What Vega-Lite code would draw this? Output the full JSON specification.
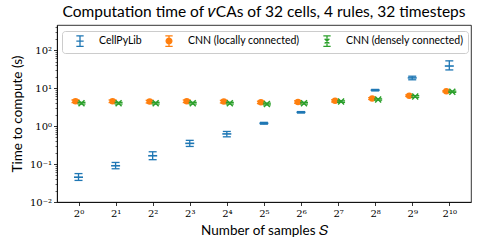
{
  "$schema": "https://vega.github.io/schema/vega-lite/v6.json",
  "width": 414,
  "height": 177,
  "autosize": {"type": "none"},
  "padding": {"left": 57, "top": 25, "right": 8, "bottom": 43},
  "title": {"text": "Computation time of 𝜈CAs of 32 cells, 4 rules, 32 timesteps", "font": "Lato", "fontSize": 15.5, "fontWeight": "normal", "color": "black", "offset": 5, "anchor": "middle"},
  "config": {
    "view": {"stroke": "black", "strokeWidth": 0.8},
    "axis": {"domainColor": "black", "tickColor": "black", "labelColor": "black", "titleColor": "black", "grid": false, "domainWidth": 0.8, "tickWidth": 0.8, "tickSize": 3.5, "labelFont": "DejaVu Serif", "labelFontSize": 10, "titleFont": "Lato", "titleFontSize": 13.5, "titleFontWeight": "normal", "labelOverlap": false, "labelFlush": false}
  },
  "datasets": {
    "d": [
      {"series": "CellPyLib", "S": 1, "t": 0.045, "lo": 0.037, "hi": 0.056},
      {"series": "CellPyLib", "S": 2, "t": 0.09, "lo": 0.075, "hi": 0.11},
      {"series": "CellPyLib", "S": 4, "t": 0.165, "lo": 0.13, "hi": 0.21},
      {"series": "CellPyLib", "S": 8, "t": 0.35, "lo": 0.29, "hi": 0.42},
      {"series": "CellPyLib", "S": 16, "t": 0.62, "lo": 0.52, "hi": 0.72},
      {"series": "CellPyLib", "S": 32, "t": 1.18, "lo": 1.12, "hi": 1.25},
      {"series": "CellPyLib", "S": 64, "t": 2.3, "lo": 2.2, "hi": 2.4},
      {"series": "CellPyLib", "S": 128, "t": 4.4, "lo": 4.2, "hi": 4.6},
      {"series": "CellPyLib", "S": 256, "t": 8.8, "lo": 8.4, "hi": 9.2},
      {"series": "CellPyLib", "S": 512, "t": 18.5, "lo": 16.5, "hi": 20.5},
      {"series": "CellPyLib", "S": 1024, "t": 38, "lo": 30, "hi": 52},
      {"series": "CNN (locally connected)", "S": 1, "t": 4.5, "lo": 4.15, "hi": 4.85},
      {"series": "CNN (locally connected)", "S": 2, "t": 4.5, "lo": 4.15, "hi": 4.85},
      {"series": "CNN (locally connected)", "S": 4, "t": 4.4, "lo": 4.05, "hi": 4.75},
      {"series": "CNN (locally connected)", "S": 8, "t": 4.5, "lo": 4.15, "hi": 4.85},
      {"series": "CNN (locally connected)", "S": 16, "t": 4.4, "lo": 4.05, "hi": 4.75},
      {"series": "CNN (locally connected)", "S": 32, "t": 4.2, "lo": 3.9, "hi": 4.5},
      {"series": "CNN (locally connected)", "S": 64, "t": 4.3, "lo": 4.0, "hi": 4.6},
      {"series": "CNN (locally connected)", "S": 128, "t": 4.6, "lo": 4.3, "hi": 4.9},
      {"series": "CNN (locally connected)", "S": 256, "t": 5.3, "lo": 5.0, "hi": 5.6},
      {"series": "CNN (locally connected)", "S": 512, "t": 6.3, "lo": 6.0, "hi": 6.6},
      {"series": "CNN (locally connected)", "S": 1024, "t": 8.2, "lo": 7.9, "hi": 8.5},
      {"series": "CNN (densely connected)", "S": 1, "t": 4.0, "lo": 3.8, "hi": 4.2},
      {"series": "CNN (densely connected)", "S": 2, "t": 4.0, "lo": 3.8, "hi": 4.2},
      {"series": "CNN (densely connected)", "S": 4, "t": 4.0, "lo": 3.8, "hi": 4.2},
      {"series": "CNN (densely connected)", "S": 8, "t": 4.0, "lo": 3.8, "hi": 4.2},
      {"series": "CNN (densely connected)", "S": 16, "t": 4.0, "lo": 3.8, "hi": 4.2},
      {"series": "CNN (densely connected)", "S": 32, "t": 3.8, "lo": 3.6, "hi": 4.0},
      {"series": "CNN (densely connected)", "S": 64, "t": 4.0, "lo": 3.8, "hi": 4.2},
      {"series": "CNN (densely connected)", "S": 128, "t": 4.4, "lo": 4.2, "hi": 4.6},
      {"series": "CNN (densely connected)", "S": 256, "t": 5.0, "lo": 4.8, "hi": 5.2},
      {"series": "CNN (densely connected)", "S": 512, "t": 6.0, "lo": 5.7, "hi": 6.3},
      {"series": "CNN (densely connected)", "S": 1024, "t": 8.0, "lo": 7.7, "hi": 8.3}
    ],
    "leg": [
      {"series": "CellPyLib", "S": 1, "t": 1},
      {"series": "CNN (locally connected)", "S": 1, "t": 1},
      {"series": "CNN (densely connected)", "S": 1, "t": 1}
    ]
  },
  "encoding": {
    "x": {
      "field": "S", "type": "quantitative",
      "scale": {"type": "log", "base": 2, "domain": [0.669, 1536], "nice": false},
      "axis": {"values": [1, 2, 4, 8, 16, 32, 64, 128, 256, 512, 1024], "labelExpr": "'2' + ['⁰','¹','²','³','⁴','⁵','⁶','⁷','⁸','⁹','¹⁰'][round(log(datum.value)/LN2)]", "title": "Number of samples 𝑆", "labelPadding": 3, "titlePadding": 5}
    }
  },
  "resolve": {"axis": {"y": "independent"}},
  "layer": [
    {
      "layer": [
        {
          "data": {"name": "d"},
          "transform": [{"filter": "datum.series === 'CellPyLib'"}],
          "layer": [
            {"mark": {"type": "rule", "color": "#1f77b4", "strokeWidth": 1.3}, "encoding": {"y": {"field": "lo", "type": "quantitative", "scale": {"type": "log", "domain": [0.01, 457], "nice": false}, "axis": {"values": [0.01, 0.1, 1, 10, 100], "labelExpr": "'10' + ['⁻²','⁻¹','⁰','¹','²'][round(log(datum.value)/LN10)+2]", "title": "Time to compute (s)", "titlePadding": 5, "labelPadding": 2}}, "y2": {"field": "hi"}}},
            {"mark": {"type": "tick", "orient": "horizontal", "color": "#1f77b4", "size": 8, "thickness": 1.3, "opacity": 1}, "encoding": {"y": {"field": "lo", "type": "quantitative", "scale": {"type": "log", "domain": [0.01, 457], "nice": false}}}},
            {"mark": {"type": "tick", "orient": "horizontal", "color": "#1f77b4", "size": 8, "thickness": 1.3, "opacity": 1}, "encoding": {"y": {"field": "hi", "type": "quantitative", "scale": {"type": "log", "domain": [0.01, 457], "nice": false}}}},
            {"mark": {"type": "tick", "orient": "horizontal", "color": "#1f77b4", "size": 9, "thickness": 1.6, "opacity": 1}, "encoding": {"y": {"field": "t", "type": "quantitative", "scale": {"type": "log", "domain": [0.01, 457], "nice": false}}}}
          ]
        },
        {
          "data": {"name": "d"},
          "transform": [{"filter": "datum.series === 'CNN (locally connected)'"}],
          "layer": [
            {"mark": {"type": "rule", "color": "#ff7f0e", "strokeWidth": 1.3, "xOffset": -3}, "encoding": {"y": {"field": "lo", "type": "quantitative", "scale": {"type": "log", "domain": [0.01, 457], "nice": false}}, "y2": {"field": "hi"}}},
            {"mark": {"type": "tick", "orient": "horizontal", "color": "#ff7f0e", "size": 8, "thickness": 1.3, "opacity": 1, "xOffset": -3}, "encoding": {"y": {"field": "lo", "type": "quantitative", "scale": {"type": "log", "domain": [0.01, 457], "nice": false}}}},
            {"mark": {"type": "tick", "orient": "horizontal", "color": "#ff7f0e", "size": 8, "thickness": 1.3, "opacity": 1, "xOffset": -3}, "encoding": {"y": {"field": "hi", "type": "quantitative", "scale": {"type": "log", "domain": [0.01, 457], "nice": false}}}},
            {"mark": {"type": "point", "shape": "circle", "filled": true, "size": 42, "color": "#ff7f0e", "opacity": 1, "xOffset": -3}, "encoding": {"y": {"field": "t", "type": "quantitative", "scale": {"type": "log", "domain": [0.01, 457], "nice": false}}}}
          ]
        },
        {
          "data": {"name": "d"},
          "transform": [{"filter": "datum.series === 'CNN (densely connected)'"}],
          "layer": [
            {"mark": {"type": "rule", "color": "#2ca02c", "strokeWidth": 1.3, "xOffset": 3}, "encoding": {"y": {"field": "lo", "type": "quantitative", "scale": {"type": "log", "domain": [0.01, 457], "nice": false}}, "y2": {"field": "hi"}}},
            {"mark": {"type": "tick", "orient": "horizontal", "color": "#2ca02c", "size": 8, "thickness": 1.3, "opacity": 1, "xOffset": 3}, "encoding": {"y": {"field": "lo", "type": "quantitative", "scale": {"type": "log", "domain": [0.01, 457], "nice": false}}}},
            {"mark": {"type": "tick", "orient": "horizontal", "color": "#2ca02c", "size": 8, "thickness": 1.3, "opacity": 1, "xOffset": 3}, "encoding": {"y": {"field": "hi", "type": "quantitative", "scale": {"type": "log", "domain": [0.01, 457], "nice": false}}}},
            {"mark": {"type": "point", "shape": "M-1,-1L1,1M-1,1L1,-1", "filled": false, "size": 36, "strokeWidth": 1.5, "color": "#2ca02c", "opacity": 1, "xOffset": 3}, "encoding": {"y": {"field": "t", "type": "quantitative", "scale": {"type": "log", "domain": [0.01, 457], "nice": false}}}}
          ]
        },
        {
          "data": {"name": "leg"},
          "mark": {"type": "point", "opacity": 0, "filled": true},
          "encoding": {
            "y": {"field": "t", "type": "quantitative", "scale": {"type": "log", "domain": [0.01, 457], "nice": false}},
            "color": {"field": "series", "type": "nominal", "scale": {"domain": ["CellPyLib", "CNN (locally connected)", "CNN (densely connected)"], "range": ["#1f77b4", "#ff7f0e", "#2ca02c"]},
              "legend": {"orient": "none", "legendX": 5, "legendY": 6, "direction": "horizontal", "title": null, "labelFont": "Lato", "labelFontSize": 10.5, "labelColor": "black", "symbolSize": 110, "symbolStrokeWidth": 1.3, "padding": 4, "symbolOffset": 8, "columnPadding": 13, "labelOffset": 13, "strokeColor": "#cccccc", "cornerRadius": 3, "fillColor": "rgba(255,255,255,0.8)",
                "encode": {"symbols": {"update": {"fill": {"scale": "color", "field": "value"}, "stroke": {"scale": "color", "field": "value"}, "opacity": {"value": 1}, "fillOpacity": {"value": 1}, "strokeOpacity": {"value": 1}, "strokeWidth": {"value": 1.3}}}}}},
            "shape": {"field": "series", "type": "nominal", "scale": {"domain": ["CellPyLib", "CNN (locally connected)", "CNN (densely connected)"], "range": ["M-0.7,-1H0.7M0,-1V1M-0.7,1H0.7M-0.7,0H0.7", "M-0.7,-1H0.7M0,-1V1M-0.7,1H0.7M-0.55,0A0.55,0.55,0,1,0,0.55,0A0.55,0.55,0,1,0,-0.55,0Z", "M-0.7,-1H0.7M0,-1V1M-0.7,1H0.7M-0.45,-0.45L0.45,0.45M-0.45,0.45L0.45,-0.45"]},
              "legend": {"orient": "none", "legendX": 5, "legendY": 6, "direction": "horizontal", "title": null, "labelFont": "Lato", "labelFontSize": 10.5, "labelColor": "black", "symbolSize": 110, "symbolStrokeWidth": 1.3, "padding": 4, "symbolOffset": 8, "columnPadding": 13, "labelOffset": 13, "strokeColor": "#cccccc", "cornerRadius": 3, "fillColor": "rgba(255,255,255,0.8)",
                "encode": {"symbols": {"update": {"fill": {"scale": "color", "field": "value"}, "stroke": {"scale": "color", "field": "value"}, "opacity": {"value": 1}, "fillOpacity": {"value": 1}, "strokeOpacity": {"value": 1}, "strokeWidth": {"value": 1.3}}}}}}
          }
        }
      ]
    },
    {
      "data": {"values": [{"S": 1, "t": 1}]},
      "mark": {"type": "point", "opacity": 0},
      "encoding": {
        "y": {"field": "t", "type": "quantitative", "scale": {"type": "log", "domain": [0.01, 457], "nice": false},
          "axis": {"orient": "left", "values": [0.02, 0.03, 0.04, 0.05, 0.06, 0.07, 0.08, 0.09, 0.2, 0.3, 0.4, 0.5, 0.6, 0.7, 0.8, 0.9, 2, 3, 4, 5, 6, 7, 8, 9, 20, 30, 40, 50, 60, 70, 80, 90, 200, 300, 400], "labels": false, "tickSize": 2, "tickWidth": 0.6, "domain": false, "title": null, "grid": false}}
      }
    }
  ]
}
